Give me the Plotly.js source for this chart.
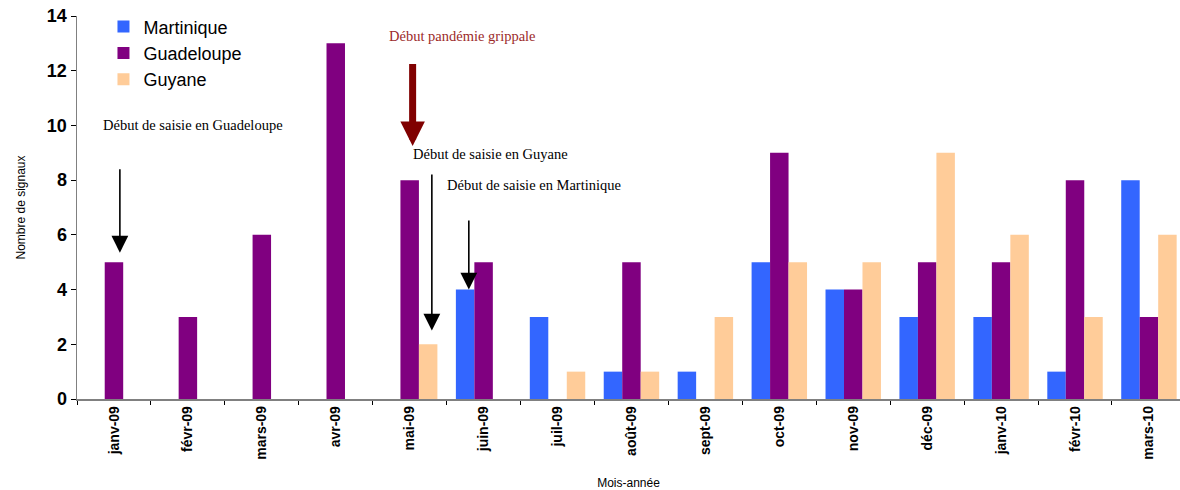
<!DOCTYPE html>
<html>
<head>
<meta charset="utf-8">
<script src="https://cdn.plot.ly/plotly-3.0.1.min.js"></script>
<style>
  html, body { margin: 0; padding: 0; background: #fff; overflow: hidden; }
  #chart { width: 1180px; height: 490px; }
</style>
</head>
<body>
<div id="chart"></div>
<script>
// Monthly signal counts per territory
const months = ['janv-09', 'févr-09', 'mars-09', 'avr-09', 'mai-09', 'juin-09', 'juil-09',
  'août-09', 'sept-09', 'oct-09', 'nov-09', 'déc-09', 'janv-10', 'févr-10', 'mars-10'];
const martinique = [0, 0, 0, 0, 0, 4, 3, 1, 1, 5, 4, 3, 3, 1, 8];
const guadeloupe = [5, 3, 6, 13, 8, 5, 0, 5, 0, 9, 4, 5, 5, 8, 3];
const guyane     = [0, 0, 0, 0, 2, 0, 1, 1, 3, 5, 5, 9, 6, 3, 6];

const seriesNames = ['Martinique', 'Guadeloupe', 'Guyane'];
const seriesColors = ['#3366FF', '#800080', '#FFCC99'];

const traces = [martinique, guadeloupe, guyane].map((vals, i) => ({
  type: 'bar',
  name: seriesNames[i],
  x: months,
  y: vals,
  marker: { color: seriesColors[i], line: { width: 0 } },
  hoverinfo: 'x+y+name'
}));

const sans = 'Liberation Sans, Arial, sans-serif';
const serif = { family: 'Liberation Serif, Times New Roman, serif', size: 14.5, color: '#000' };

function arrow(x, yTail, yTip, color, width, size) {
  return {
    x: x, y: yTip, ax: x, ay: yTail,
    xref: 'x', yref: 'y', axref: 'x', ayref: 'y',
    text: '', showarrow: true,
    arrowhead: 2, arrowsize: size, arrowwidth: width, arrowcolor: color
  };
}

function label(x, y, text, color) {
  return {
    x: x, y: y, xref: 'x', yref: 'y', text: text, showarrow: false,
    font: Object.assign({}, serif, { color: color || '#000' }),
    xanchor: 'center', yanchor: 'middle'
  };
}

const annotations = [
  label(1.07, 10.0, 'Début de saisie en Guadeloupe'),
  arrow(0.08, 8.45, 5.35, '#000', 1.6, 2.1),
  label(4.72, 13.27, 'Début pandémie grippale', '#9C2A2A'),
  arrow(4.04, 12.3, 9.25, '#800000', 7, 0.7),
  label(5.1, 8.95, 'Début de saisie en Guyane'),
  arrow(4.3, 8.26, 2.5, '#000', 1.6, 2.1),
  label(5.68, 7.82, 'Début de saisie en Martinique'),
  arrow(4.8, 6.58, 4.0, '#000', 1.6, 2.1)
];

const layout = {
  width: 1180,
  height: 490,
  margin: { l: 77, r: 0, t: 16, b: 91 },
  paper_bgcolor: '#fff',
  plot_bgcolor: '#fff',
  barmode: 'group',
  bargap: 0.25,
  bargroupgap: 0,
  showlegend: true,
  legend: {
    x: 0.024, y: 1.02, xanchor: 'left', yanchor: 'top',
    font: { family: sans, size: 18, color: '#000' },
    bgcolor: 'rgba(0,0,0,0)', itemwidth: 30, tracegroupgap: 0
  },
  xaxis: {
    type: 'category',
    range: [-0.5, 14.42],
    tickangle: -90,
    tickson: 'boundaries',
    ticks: 'outside', ticklen: 4, tickcolor: '#000', tickwidth: 1,
    showline: true, linecolor: '#808080', linewidth: 1.5,
    showgrid: false, zeroline: false,
    tickfont: { family: sans, size: 14, color: '#000', weight: 'bold' },
    title: { text: 'Mois-année', standoff: 28,
      font: { family: sans, size: 12, color: '#000' } }
  },
  yaxis: {
    range: [0, 14],
    tickvals: [0, 2, 4, 6, 8, 10, 12, 14],
    ticks: 'outside', ticklen: 5, tickcolor: '#000', tickwidth: 1,
    showline: true, linecolor: '#808080', linewidth: 1.5,
    showgrid: false, zeroline: false,
    tickfont: { family: sans, size: 18, color: '#000', weight: 'bold' },
    title: { text: 'Nombre de signaux', standoff: 18,
      font: { family: sans, size: 12, color: '#000' } }
  },
  annotations: annotations
};

Plotly.newPlot('chart', traces, layout, { displayModeBar: false, staticPlot: true });
</script>
</body>
</html>
